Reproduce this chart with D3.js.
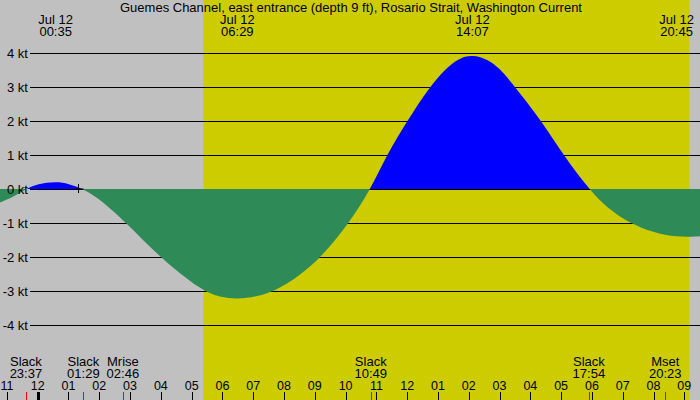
<!DOCTYPE html>
<html>
<head>
<meta charset="utf-8">
<script src="https://cdn.jsdelivr.net/npm/d3@7/dist/d3.min.js"></script>
<style>
  body { margin: 0; background: #fff; }
  svg { display: block; font-family: 'Liberation Sans', Arial, sans-serif; }
</style>
</head>
<body>
<div id="chart"></div>
<script>
const title = 'Guemes Channel, east entrance (depth 9 ft), Rosario Strait, Washington Current';

// current speed (kt), at these times
const flowTimes = [
  '07-11 22:46', '07-11 23:13', '07-11 23:37', '07-12 00:00', '07-12 00:35',
  '07-12 01:00', '07-12 01:29', '07-12 02:00', '07-12 02:53', '07-12 03:57',
  '07-12 05:20', '07-12 05:55', '07-12 06:29', '07-12 07:05', '07-12 07:43',
  '07-12 08:30', '07-12 09:13', '07-12 10:07', '07-12 10:49', '07-12 11:20',
  '07-12 12:00', '07-12 12:43', '07-12 13:20', '07-12 13:45', '07-12 14:07',
  '07-12 14:35', '07-12 15:00', '07-12 15:30', '07-12 16:22', '07-12 17:04',
  '07-12 17:54', '07-12 18:30', '07-12 19:13', '07-12 20:00', '07-12 20:45',
  '07-12 21:31'
];
const flowValues = [
  -0.40, -0.23, 0, 0.15, 0.22,
  0.16, 0, -0.28, -1.0, -2.0,
  -3.0, -3.18, -3.24, -3.17, -3.0,
  -2.55, -2.0, -1.0, 0, 1.0,
  2.0, 3.0, 3.62, 3.87, 3.94,
  3.83, 3.56, 3.0, 2.0, 1.0,
  0, -0.57, -1.0, -1.28, -1.42,
  -1.39
];

// max flood / ebb labels along the top
const peakTimes = ['07-12 00:35', '07-12 06:29', '07-12 14:07', '07-12 20:45'];
const peakDay = 'Jul 12';

// slack and moon events along the bottom
const eventNames = ['Slack', 'Slack', 'Mrise', 'Slack', 'Slack', 'Mset'];
const eventTimes = ['07-11 23:37', '07-12 01:29', '07-12 02:46', '07-12 10:49', '07-12 17:54', '07-12 20:23'];

const sunrise = '07-12 05:23';
const sunset = '07-12 21:10';
const markTime = '07-12 01:19';

const yTicks = [4, 3, 2, 1, 0, -1, -2, -3, -4];

const width = 700, height = 400;
const parse = d3.timeParse('%m-%d %H:%M');
const fmt = d3.timeFormat('%H:%M');

const svg = d3.select('#chart').append('svg')
  .attr('width', width)
  .attr('height', height);

const x = d3.scaleTime()
  .domain([parse('07-12 00:00'), parse('07-12 21:00')])
  .range([37.7, 684.3]);
const y = d3.scaleLinear().domain([-4, 4]).range([325, 53]);

const data = flowTimes.map((t, i) => ({ t: parse(t), v: flowValues[i] }));

// night / day background
svg.append('rect').attr('width', width).attr('height', height).attr('fill', '#c0c0c0');
svg.append('rect')
  .attr('x', x(parse(sunrise)))
  .attr('width', x(parse(sunset)) - x(parse(sunrise)))
  .attr('height', height)
  .attr('fill', '#cccc00');

// grid lines
svg.append('g').selectAll('line').data(yTicks).join('line')
  .attr('x1', 30).attr('x2', width)
  .attr('y1', (d) => y(d) + 0.5).attr('y2', (d) => y(d) + 0.5)
  .attr('stroke', '#000').attr('stroke-width', 1);

// flood above zero, ebb below
const defs = svg.append('defs');
defs.append('clipPath').attr('id', 'above').append('rect')
  .attr('x', 0).attr('y', 0).attr('width', width).attr('height', y(0));
defs.append('clipPath').attr('id', 'below').append('rect')
  .attr('x', 0).attr('y', y(0)).attr('width', width).attr('height', height - y(0));

const area = d3.area()
  .curve(d3.curveBasis)
  .x((d) => x(d.t))
  .y0(y(0))
  .y1((d) => y(d.v));

svg.append('path').datum(data).attr('d', area)
  .attr('fill', '#0000ff').attr('clip-path', 'url(#above)');
svg.append('path').datum(data).attr('d', area)
  .attr('fill', '#2e8b57').attr('clip-path', 'url(#below)');

// the + mark
const mx = Math.round(x(parse(markTime))) + 0.5;
const my = y(0);
svg.append('path')
  .attr('d', `M${mx - 4},${my}H${mx + 5}M${mx},${my - 5}V${my + 4}`)
  .attr('stroke', '#000').attr('stroke-width', 1).attr('fill', 'none');

// y labels
svg.append('g').selectAll('text').data(yTicks).join('text')
  .attr('x', 28).attr('y', (d) => y(d) + 5)
  .attr('text-anchor', 'end')
  .style('font-size', '13px')
  .text((d) => d + ' kt');

// title
svg.append('text')
  .attr('x', 351).attr('y', 12)
  .attr('text-anchor', 'middle')
  .style('font-size', '13px')
  .text(title);

// top peak labels
const peaks = svg.append('g').selectAll('g').data(peakTimes).join('g')
  .attr('transform', (d) => `translate(${x(parse(d))},0)`);
peaks.append('text').attr('y', 24).attr('text-anchor', 'middle')
  .style('font-size', '13px').text(peakDay);
peaks.append('text').attr('y', 36).attr('text-anchor', 'middle')
  .style('font-size', '13px').text((d) => fmt(parse(d)));

// bottom event labels
const events = svg.append('g').selectAll('g').data(eventTimes).join('g')
  .attr('transform', (d) => `translate(${x(parse(d))},0)`);
events.append('text').attr('y', 366).attr('text-anchor', 'middle')
  .style('font-size', '13px').text((d, i) => eventNames[i]);
events.append('text').attr('y', 378).attr('text-anchor', 'middle')
  .style('font-size', '13px').text((d) => fmt(parse(d)));
svg.append('g').selectAll('line').data(eventTimes).join('line')
  .attr('x1', (d) => Math.round(x(parse(d))) + 0.5)
  .attr('x2', (d) => Math.round(x(parse(d))) + 0.5)
  .attr('y1', 392).attr('y2', height)
  .attr('stroke', '#ff0000');

// hour axis
const hours = d3.timeHour.range(x.invert(0), x.invert(width + 1));
svg.append('g').selectAll('line').data(hours).join('line')
  .attr('x1', (d) => Math.round(x(d)) + 0.5)
  .attr('x2', (d) => Math.round(x(d)) + 0.5)
  .attr('y1', 392).attr('y2', height)
  .attr('stroke', '#000')
  .attr('stroke-width', (d) => (d.getHours() === 0 ? 3 : 1));
svg.append('g').selectAll('text').data(hours).join('text')
  .attr('x', (d) => x(d)).attr('y', 390)
  .attr('text-anchor', 'middle')
  .style('font-size', '12.5px')
  .text(d3.timeFormat('%I'));
</script>
</body>
</html>
